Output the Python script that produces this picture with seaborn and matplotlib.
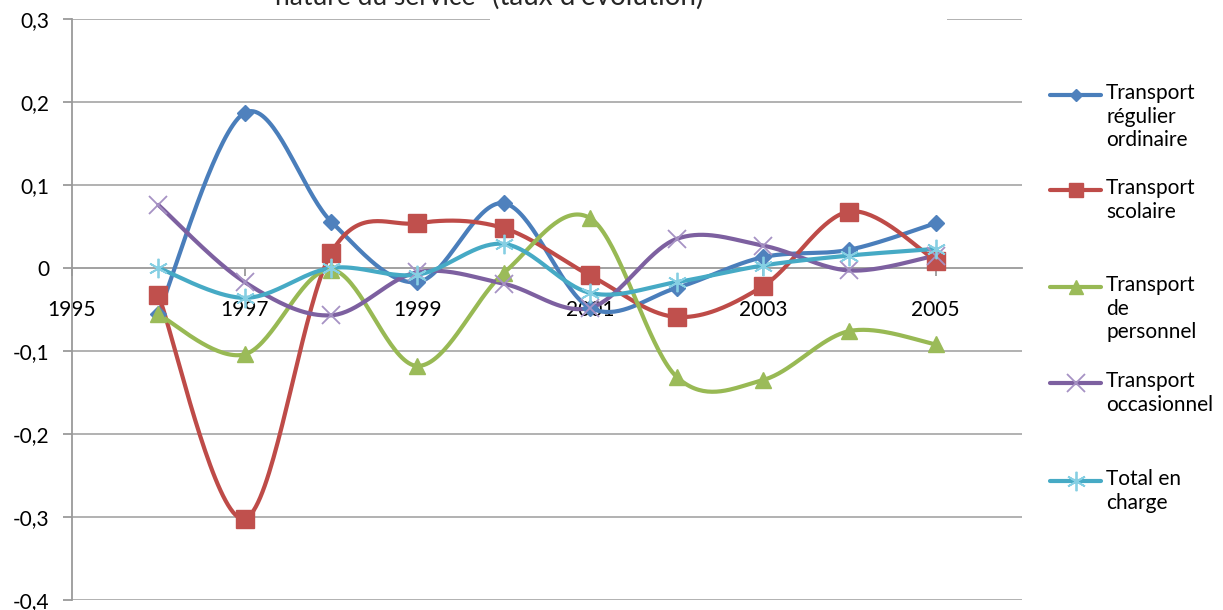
import numpy as np
import pandas as pd
import matplotlib
matplotlib.use("Agg")
import matplotlib.pyplot as plt
from matplotlib.lines import Line2D
from matplotlib.patches import Rectangle
import seaborn as sns

years = [1996, 1997, 1998, 1999, 2000, 2001, 2002, 2003, 2004, 2005]
regulier = [-0.055, 0.187, 0.056, -0.017, 0.078, -0.048, -0.024, 0.013, 0.022, 0.054]
scolaire = [-0.032, -0.302, 0.018, 0.054, 0.048, -0.009, -0.059, -0.022, 0.068, 0.009]
personnel = [-0.056, -0.104, -0.002, -0.118, -0.006, 0.060, -0.131, -0.135, -0.076, -0.092]
occasionnel = [0.076, -0.017, -0.057, -0.005, -0.019, -0.048, 0.035, 0.027, -0.003, 0.015]
total = [0.0, -0.036, 0.0, -0.008, 0.029, -0.030, -0.017, 0.003, 0.015, 0.023]

series_names = ["Transport\nrégulier\nordinaire", "Transport\nscolaire",
                "Transport\nde\npersonnel", "Transport\noccasionnel", "Total en\ncharge"]
series_values = [regulier, scolaire, personnel, occasionnel, total]

line_colors = ["#4A7EBB", "#BE4B48", "#98B954", "#7D60A0", "#46AAC5"]
marker_face = ["#4F81BD", "#C0504D", "#9BBB59", "#A692C4", "#86CFE3"]
markers = ["D", "s", "^", "x", (6, 2, 0)]
msizes = [8, 13, 12, 13, 14]

FONT = ["Lato", "DejaVu Sans"]
sns.set_theme(style="white")
plt.rcParams["font.family"] = FONT


def smooth(xs, ys, n=40):
    xs = np.asarray(xs, float); ys = np.asarray(ys, float)
    P = np.column_stack([xs, ys])
    m = len(P)
    out = []
    for i in range(m - 1):
        p0 = P[i - 1] if i > 0 else P[i]
        p1 = P[i]
        p2 = P[i + 1]
        p3 = P[i + 2] if i + 2 < m else P[i + 1]
        c1 = p1 + (p2 - p0) / 6.0
        c2 = p2 - (p3 - p1) / 6.0
        t = np.linspace(0, 1, n)[:, None]
        seg = ((1 - t) ** 3) * p1 + 3 * ((1 - t) ** 2) * t * c1 + 3 * (1 - t) * t ** 2 * c2 + t ** 3 * p2
        out.append(seg if i == 0 else seg[1:])
    out = np.vstack(out)
    return out[:, 0], out[:, 1]


W, H = 1223, 610
fig = plt.figure(figsize=(W / 100, H / 100), dpi=100)
ax = fig.add_axes([72 / W, 1 - 600 / H, (1022 - 72) / W, (600 - 19) / H])

ax.set_xlim(1995, 2006)
ax.set_ylim(-0.4, 0.3)
yt = np.round(np.arange(-0.4, 0.31, 0.1), 1)
ax.set_yticks(yt)
ax.set_yticklabels(["0" if abs(v) < 1e-9 else f"{v:.1f}".replace(".", ",") for v in yt])
ax.set_xticks([1995, 1997, 1999, 2001, 2003, 2005])
ax.set_xticklabels(["1995", "1997", "1999", "2001", "2003", "2005"])

for v in yt:
    if abs(v) > 1e-9:
        ax.axhline(v, color="#ABABAB", lw=1.3, zorder=0)

for s in ["top", "right"]:
    ax.spines[s].set_visible(False)
ax.spines["left"].set_color("#9A9A9A")
ax.spines["left"].set_linewidth(1.3)
ax.spines["bottom"].set_position(("data", 0))
ax.spines["bottom"].set_color("#9A9A9A")
ax.spines["bottom"].set_linewidth(1.3)
ax.tick_params(axis="y", direction="out", length=6.5, width=1.3, color="#9A9A9A",
               labelsize=15, pad=10, left=True, labelcolor="#000000")
ax.tick_params(axis="x", direction="out", length=6, width=1.3, color="#9A9A9A",
               labelsize=15, pad=17, bottom=True, labelcolor="#000000")

# gap in top gridline behind title area
ax.add_patch(Rectangle((490 / W, 1 - 24 / H), (947 - 490) / W, 10 / H,
                       transform=fig.transFigure, facecolor="white", edgecolor="none",
                       zorder=1, clip_on=False))

for name, vals, lc, mf, mk, ms in zip(series_names, series_values, line_colors, marker_face, markers, msizes):
    sx, sy = smooth(years, vals)
    dfc = pd.DataFrame({"x": sx, "y": sy})
    sns.lineplot(data=dfc, x="x", y="y", ax=ax, color=lc, lw=3, sort=False,
                 estimator=None, zorder=3)
    dfp = pd.DataFrame({"x": years, "y": vals})
    if mk in ("x",) or isinstance(mk, tuple):
        ax.plot(dfp["x"], dfp["y"], linestyle="none", marker=mk, markersize=ms,
                markeredgecolor=mf, markeredgewidth=1.3, zorder=4)
    else:
        ax.plot(dfp["x"], dfp["y"], linestyle="none", marker=mk, markersize=ms,
                markerfacecolor=mf, markeredgecolor=mf, zorder=4)

ax.set_xlabel("")
ax.set_ylabel("")

# legend
legend_y = [95, 190, 287, 383, 481]
for (name, lc, mf, mk, ms, yy) in zip(series_names, line_colors, marker_face, markers, msizes, legend_y):
    yf = 1 - yy / H
    fig.add_artist(Line2D([1050 / W, 1101 / W], [yf, yf], transform=fig.transFigure,
                          color=lc, lw=3))
    if mk in ("x",) or isinstance(mk, tuple):
        fig.add_artist(Line2D([1076 / W], [yf], transform=fig.transFigure, linestyle="none",
                              marker=mk, markersize=ms, markeredgecolor=mf, markeredgewidth=1.3))
    else:
        fig.add_artist(Line2D([1076 / W], [yf], transform=fig.transFigure, linestyle="none",
                              marker=mk, markersize=ms * 0.8, markerfacecolor=mf, markeredgecolor=mf))
    fig.text(1106 / W, 1 - (yy - 12) / H, name, ha="left", va="top", fontsize=15,
             linespacing=1.22, color="#000000")

# title (partly cut at top, as in the source)
fig.text(482 / W, 1 - 5 / H, "nature du service ", ha="right", va="baseline", fontsize=19)
fig.text(492 / W, 1 - 5 / H, "(taux d'évolution)", ha="left", va="baseline", fontsize=20)

fig.savefig("out.png", dpi=100)
